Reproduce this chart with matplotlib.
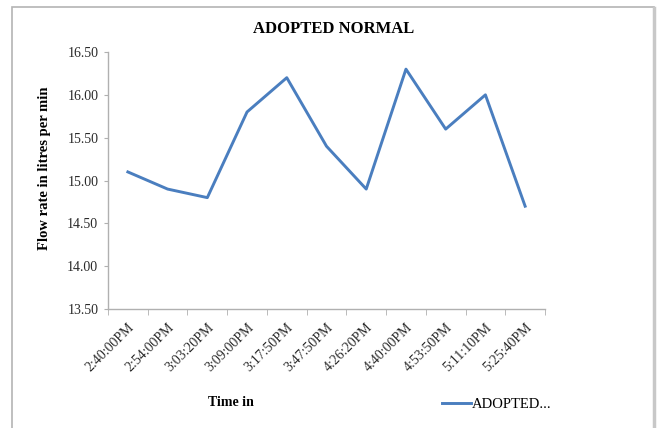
import matplotlib.pyplot as plt
from matplotlib.patches import Rectangle
from matplotlib.lines import Line2D

# --- data ---
times = ['2:40:00PM', '2:54:00PM', '3:03:20PM', '3:09:00PM', '3:17:50PM', '3:47:50PM',
         '4:26:20PM', '4:40:00PM', '4:53:50PM', '5:11:10PM', '5:25:40PM']
flow = [15.10, 14.90, 14.80, 15.80, 16.20, 15.40, 14.90, 16.30, 15.60, 16.00, 14.70]
yticks = [13.50, 14.00, 14.50, 15.00, 15.50, 16.00, 16.50]

W, H = 659, 428
plt.rcParams['font.family'] = ['Liberation Serif', 'DejaVu Serif']

fig = plt.figure(figsize=(W / 100, H / 100), dpi=100)
fig.patch.set_facecolor('white')

# chart frame (page border around the chart)
frame = Rectangle((12 / W, -0.05), (654 - 12) / W, 1.05 - 7 / H, transform=fig.transFigure,
                  fill=False, edgecolor='#b4b4b4', lw=1.2)
fig.patches.append(frame)
shadow = Line2D([654 / W, 654 / W], [0, 1 - 8 / H], transform=fig.transFigure,
                color='#c8c8c8', lw=2.5)
fig.lines.append(shadow)

ax = fig.add_axes([108 / W, 1 - 309 / H, (545 - 108) / W, (309 - 52) / H])
x = list(range(len(times)))
ln, = ax.plot(x, flow, color='#4a7ebf', lw=2.1, label='ADOPTED...')

ax.set_xlim(-0.5, len(times) - 0.5)
ax.set_ylim(13.5, 16.5)
ax.set_yticks(yticks)
ax.set_yticklabels([f'{v:.2f}' for v in yticks], fontsize=10, color='#2a2a2a')

ax.set_xticks(x)
ax.set_xticklabels(times, fontsize=10, rotation=45, ha='right', va='top',
                   rotation_mode='anchor', color='#2a2a2a')
ax.set_xticks([i - 0.5 for i in range(len(times) + 1)], minor=True)
ax.tick_params(axis='x', which='major', length=0, pad=8.5)
ax.tick_params(axis='x', which='minor', length=4, color='#b0b0b0', direction='out')
ax.tick_params(axis='y', length=3, color='#b0b0b0', pad=4)

for side in ('top', 'right'):
    ax.spines[side].set_visible(False)
for side in ('left', 'bottom'):
    ax.spines[side].set_color('#b0b0b0')
    ax.spines[side].set_linewidth(1.0)

fig.text(334 / W, 1 - 29 / H, 'ADOPTED NORMAL', fontsize=12, fontweight='bold',
         ha='center', va='center')
fig.text(45 / W, 1 - 168 / H, 'Flow rate in litres per min', fontsize=10.5,
         fontweight='bold', rotation=90, ha='center', va='center')
fig.text(231 / W, 1 - 402 / H, 'Time in', fontsize=10, fontweight='bold',
         ha='center', va='center')

fig.legend(handles=[ln], loc='center left', bbox_to_anchor=(442 / W, 1 - 404 / H),
           frameon=False, fontsize=10.5, handlelength=2.0, handletextpad=0.05,
           borderaxespad=0, borderpad=0)

fig.savefig('out.png', dpi=100, facecolor='white')
